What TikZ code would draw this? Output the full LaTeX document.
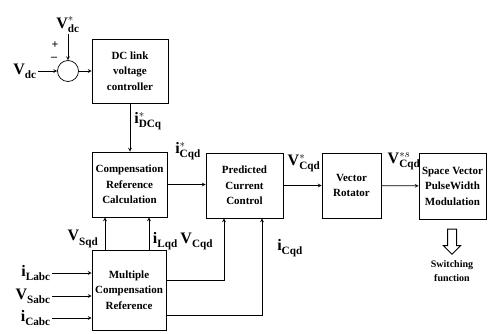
\documentclass[tikz,border=0pt]{standalone}
\usepackage{fontspec}
\setmainfont{Liberation Serif}
\usetikzlibrary{shapes.arrows}

% block and label looks
\tikzset{
  blk/.style={draw, line width=0.8pt, align=center, inner sep=1pt,
    font=\bfseries\fontsize{11}{15.5}\selectfont},
  lbl/.style={inner sep=1pt, font=\fontsize{16}{18}\selectfont},
  small/.style={inner sep=0pt, font=\bfseries\fontsize{10}{14}\selectfont},
}
\newcommand{\sig}[3]{$\mathbf{#1}^{#2}_{\mathbf{#3}}$}

\begin{document}
\begin{tikzpicture}[x=1pt, y=-1pt, >=stealth, line width=0.7pt]
    \useasboundingbox (0,0) rectangle (491,334);

    % Blocks
    \node[blk, minimum width=76, minimum height=64] (dclink) at (130,71) {DC link\\voltage\\controller};
    \node[blk, minimum width=75, minimum height=65] (comp) at (129.5,184.5) {Compensation\\Reference\\Calculation};
    \node[blk, minimum width=77, minimum height=65] (pcc) at (244.5,185.5) {Predicted\\Current\\Control};
    \node[blk, minimum width=59, minimum height=65] (rot) at (351.5,185.5) {Vector\\Rotator};
    \node[blk, minimum width=67, minimum height=66] (svpwm) at (452.5,186) {Space Vector\\PulseWidth\\Modulation};
    \node[blk, minimum width=74, minimum height=80] (mcr) at (129,290) {Multiple\\Compensation\\Reference};

    % Summing junction
    \node[circle, draw, minimum size=21, inner sep=0pt] (sum) at (68,71) {};
    \coordinate (vin) at (38,71);
    \coordinate (vref) at (68,34);
    \node[lbl, left] (vdc) at (vin) {\sig{V}{}{dc}};
    \node[lbl, above] (vdcref) at (vref) {\sig{V}{*}{dc}};
    \node[small, font=\bfseries\fontsize{12}{12}\selectfont] (plus) at (55,45) {+};
    \node[small, font=\bfseries\fontsize{12}{12}\selectfont] (minus) at (54,59) {–};
    \draw[->] (vin) -- (sum);
    \draw[->] (vref) -- (sum);
    \draw[->] (sum) -- (dclink);

    % Forward path
    \draw[->] (dclink.south) -- (dclink.south |- comp.north);
    \node[lbl, anchor=west] (idcq) at (133,121) {\sig{i}{*}{DCq}};
    \draw[->] (comp.east) -- (comp.east -| pcc.west);
    \node[lbl] (icqdref) at (188,151) {\sig{i}{*}{Cqd}};
    \draw[->] (pcc) -- (rot);
    \node[lbl] (vcqdref) at (304,163) {\sig{V}{*}{Cqd}};
    \draw[->] (rot) -- (svpwm);
    \node[lbl] (vcqds) at (404,161) {\sig{V}{*s}{Cqd}};

    % Switching output
    \node[single arrow, draw, fill=white, line width=1pt, shape border rotate=270, inner sep=4pt,
      minimum width=0pt, minimum height=25, single arrow head extend=4pt] (swarrow) at (452,239.5) {};
    \node[small, align=center] (swtxt) at (452,271) {Switching\\function};

    % Feedback from the reference block
    \draw[->] ([xshift=-24pt]mcr.north) -- ([xshift=-24pt]mcr.north |- comp.south);
    \draw[->] ([xshift=20pt]mcr.north) -- ([xshift=20pt]mcr.north |- comp.south);
    \node[lbl] (vsqd) at (83,239) {\sig{V}{}{Sqd}};
    \node[lbl] (ilqd) at (183,241) {\sig{i}{}{Lqd}\,\sig{V}{}{Cqd}};
    \draw[->] ([yshift=10pt]mcr.east) -| ([xshift=-20.5pt]pcc.south);
    \draw[->] ([yshift=-25pt]mcr.east) -| ([xshift=17.5pt]pcc.south);
    \node[lbl] (icqd) at (290,248) {\sig{i}{}{Cqd}};

    % Measured inputs
    \coordinate (in1) at (52,273);
    \coordinate (in2) at (52,296);
    \coordinate (in3) at (52,318);
    \node[lbl, left] (ilabc) at (in1) {\sig{i}{}{Labc}};
    \node[lbl, left] (vsabc) at (in2) {\sig{V}{}{Sabc}};
    \node[lbl, left] (icabc) at (in3) {\sig{i}{}{Cabc}};
    \draw[->] (in1) -- (in1 -| mcr.west);
    \draw[->] (in2) -- (in2 -| mcr.west);
    \draw[->] (in3) -- (in3 -| mcr.west);
\end{tikzpicture}
\end{document}
